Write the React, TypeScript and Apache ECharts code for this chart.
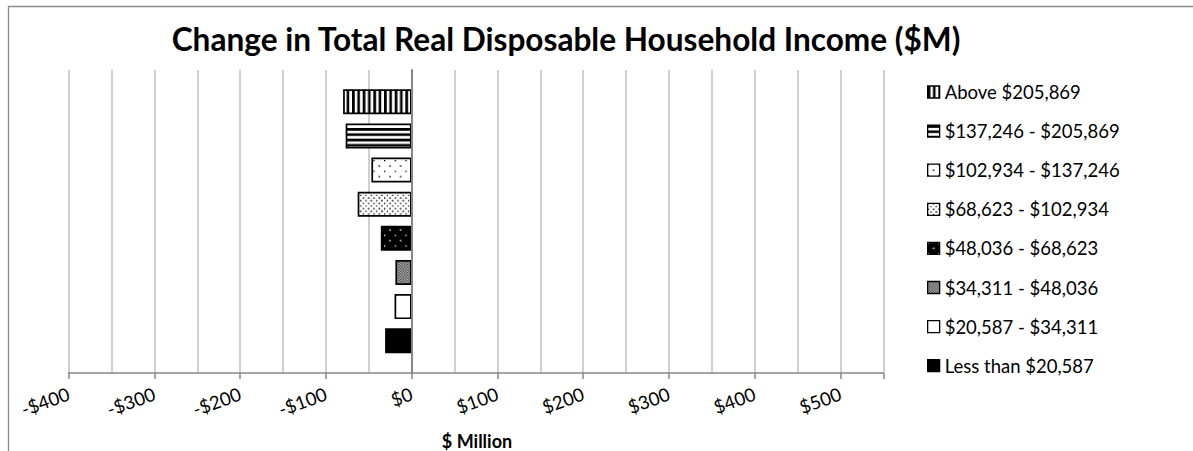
import React, { useEffect, useRef } from 'react';
import * as echarts from 'echarts';

// ---- data ----
const categories: string[] = [
  'Above $205,869',
  '$137,246 - $205,869',
  '$102,934 - $137,246',
  '$68,623 - $102,934',
  '$48,036 - $68,623',
  '$34,311 - $48,036',
  '$20,587 - $34,311',
  'Less than $20,587',
];
const values: number[] = [-80, -77, -47, -63, -36, -19, -20, -31];
const axisMin = -400;
const axisMax = 550;
const labelStep = 100;
const gridStep = 50;
const titleText = 'Change in Total Real Disposable Household Income ($M)';
const axisTitle = '$ Million';

// 8x8 Excel-style pattern bitmaps ('1' = foreground)
const bitmaps: (string[] | null)[] = [
  ['11001100', '11001100', '11001100', '11001100', '11001100', '11001100', '11001100', '11001100'],
  ['11111111', '11111111', '00000000', '00000000', '11111111', '11111111', '00000000', '00000000'],
  ['10000000', '00000000', '00000000', '00000000', '00001000', '00000000', '00000000', '00000000'],
  ['10001000', '00000000', '00100010', '00000000', '10001000', '00000000', '00100010', '00000000'],
  ['01111111', '11111111', '11111111', '11111111', '11110111', '11111111', '11111111', '11111111'],
  ['01010101', '10101010', '01010101', '10101010', '01010101', '10101010', '01010101', '10101010'],
  null,
  null,
];
const solidFills: string[] = ['', '', '', '', '', '', '#ffffff', '#000000'];

function makePattern(bits: string[]): any {
  const px = 4;
  const canvas = document.createElement('canvas');
  canvas.width = 8 * px;
  canvas.height = 8 * px;
  const ctx = canvas.getContext('2d')!;
  ctx.fillStyle = '#ffffff';
  ctx.fillRect(0, 0, canvas.width, canvas.height);
  ctx.fillStyle = '#000000';
  bits.forEach((row, y) => {
    for (let x = 0; x < row.length; x++) {
      if (row[x] === '1') ctx.fillRect(x * px, y * px, px, px);
    }
  });
  return {
    image: canvas,
    repeat: 'repeat',
    imageWidth: canvas.width,
    imageHeight: canvas.height,
    scaleX: 1 / 3,
    scaleY: 1 / 3,
  };
}

const FONT = 'Lato, "Open Sans", sans-serif';

export default function App() {
  const ref = useRef<HTMLDivElement>(null);
  useEffect(() => {
    if (!ref.current) return;
    const chart = echarts.init(ref.current, undefined, { renderer: 'svg' });
    const fills = bitmaps.map((b, i) => (b ? makePattern(b) : solidFills[i]));

    const gridLeft = 68.7;
    const gridRight = 1193 - 883.3;

    const fmt = (v: number) => {
      if (v > 500) return '';
      return v < 0 ? '-$' + Math.abs(v) : '$' + v;
    };

    const option: any = {
      animation: false,
      backgroundColor: '#ffffff',
      graphic: [
        {
          type: 'rect',
          shape: { x: 8.5, y: 6.5, width: 1300, height: 600 },
          style: { fill: 'none', stroke: '#8c8c8c', lineWidth: 1.3 },
          z: -1,
        },
        {
          type: 'text',
          x: 566,
          y: 39,
          style: {
            text: titleText,
            fill: '#000',
            fontFamily: FONT,
            fontWeight: 'bold',
            fontSize: 31.6,
            align: 'center',
            verticalAlign: 'middle',
          },
        },
        {
          type: 'text',
          x: 477,
          y: 441,
          style: {
            text: axisTitle,
            fill: '#000',
            fontFamily: FONT,
            fontWeight: 'bold',
            fontSize: 18,
            align: 'center',
            verticalAlign: 'middle',
          },
        },
      ],
      legend: {
        data: categories,
        orient: 'vertical',
        left: 927,
        top: 82,
        padding: 0,
        itemWidth: 12,
        itemHeight: 12,
        itemGap: 19.1,
        icon: 'rect',
        itemStyle: { borderColor: '#000', borderWidth: 1.3 },
        textStyle: { fontFamily: FONT, fontSize: 18.5, color: '#000', lineHeight: 20 },
      },
      grid: [
        { left: gridLeft, right: gridRight, top: 70, height: 303 },
        { left: gridLeft, right: gridRight, top: 84.7, height: 273.1 },
      ],
      xAxis: [
        {
          gridIndex: 0,
          type: 'value',
          position: 'bottom',
          min: axisMin,
          max: axisMax,
          interval: labelStep,
          axisLine: { show: true, onZero: false, lineStyle: { color: '#868686', width: 1.5 } },
          axisTick: { show: true, length: 6, lineStyle: { color: '#868686', width: 1.5 } },
          axisLabel: {
            rotate: 20,
            margin: 20,
            formatter: fmt,
            fontFamily: FONT,
            fontSize: 18.5,
            color: '#000',
          },
          splitLine: { show: false },
          z: 3,
        },
        {
          gridIndex: 0,
          type: 'value',
          position: 'bottom',
          min: axisMin,
          max: axisMax,
          interval: gridStep,
          axisLine: { show: false },
          axisTick: { show: false },
          axisLabel: { show: false },
          splitLine: { show: true, lineStyle: { color: '#c0c0c0', width: 1.5 } },
        },
        {
          gridIndex: 1,
          type: 'value',
          min: axisMin,
          max: axisMax,
          show: false,
          splitLine: { show: false },
        },
      ],
      yAxis: [
        {
          gridIndex: 0,
          type: 'category',
          data: [''],
          axisLine: { show: true, onZero: true, lineStyle: { color: '#868686', width: 2 } },
          axisTick: { show: false },
          axisLabel: { show: false },
          splitLine: { show: false },
          z: 4,
        },
        {
          gridIndex: 1,
          type: 'category',
          data: categories,
          inverse: true,
          show: false,
        },
      ],
      series: categories.map((name, i) => ({
        type: 'bar',
        name,
        xAxisIndex: 2,
        yAxisIndex: 1,
        stack: 'one',
        barWidth: 25,
        data: categories.map((_, j) => (j === i ? values[i] : '-')),
        itemStyle: { color: fills[i], borderColor: '#000', borderWidth: 1.7 },
        emphasis: { disabled: true },
      })),
    };
    chart.setOption(option);
    return () => chart.dispose();
  }, []);

  return (
    <div
      ref={ref}
      style={{ position: 'absolute', left: 0, top: 0, width: 1193, height: 451 }}
    />
  );
}
